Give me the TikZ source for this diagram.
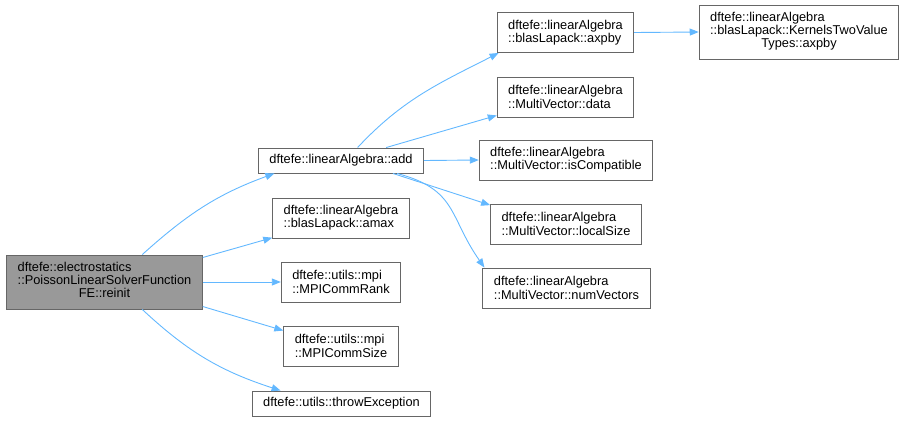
\documentclass[tikz,border=0pt]{standalone}
\usepackage{fontspec}
\setmainfont{Liberation Sans}
\usepackage{tikz}
\usetikzlibrary{arrows.meta}

\definecolor{edgeblue}{HTML}{63B8FF}
\definecolor{boxgray}{HTML}{666666}
\definecolor{rootfill}{HTML}{999999}

% three lines, the last one centred (doxygen wrapping)
\newcommand{\lastcentered}[3]{\begin{tabular}{@{}l@{}}#1\\#2\\\multicolumn{1}{@{}c@{}}{#3}\end{tabular}}

\begin{document}
\begin{tikzpicture}[
  x=1pt, y=1pt,
  every node/.style={font=\fontsize{12.8}{13.3}\selectfont},
  fn/.style={draw=boxgray, line width=0.9pt, fill=white, align=left, inner xsep=11pt, inner ysep=0pt},
  oneline/.style={fn, minimum height=25pt},
  twoline/.style={fn, minimum height=40pt},
  threeline/.style={fn, minimum height=54pt},
  call/.style={-{Triangle[length=9pt,width=7pt]}, color=edgeblue, line width=0.9pt},
]
\useasboundingbox (0,0) rectangle (909,-421);

% --- caller
\node[threeline, fill=rootfill] (reinit) at (104.5,-282)
  {\lastcentered{dftefe::electrostatics}{::PoissonLinearSolverFunction}{FE::reinit}};

% --- direct callees
\node[oneline] (add)      at (341,-160.5) {dftefe::linearAlgebra::add};
\node[twoline] (amax)     at (341,-218)   {dftefe::linearAlgebra\\::blasLapack::amax};
\node[twoline] (commrank) at (341,-282)   {dftefe::utils::mpi\\::MPICommRank};
\node[twoline] (commsize) at (341,-346)   {dftefe::utils::mpi\\::MPICommSize};
\node[oneline] (throwexc) at (341.5,-403.5) {dftefe::utils::throwException};

% --- called from add
\node[twoline] (axpby)     at (565.5,-32.5) {dftefe::linearAlgebra\\::blasLapack::axpby};
\node[twoline] (data)      at (565.5,-97)   {dftefe::linearAlgebra\\::MultiVector::data};
\node[twoline] (iscompat)  at (566,-160)    {dftefe::linearAlgebra\\::MultiVector::isCompatible};
\node[twoline] (localsize) at (566,-224)    {dftefe::linearAlgebra\\::MultiVector::localSize};
\node[twoline] (numvec)    at (566.5,-288)  {dftefe::linearAlgebra\\::MultiVector::numVectors};

% --- called from axpby
\node[threeline] (kernaxpby) at (799,-32)
  {\lastcentered{dftefe::linearAlgebra}{::blasLapack::KernelsTwoValue}{Types::axpby}};

% --- calls
\draw[call] (reinit.36) to[out=42,in=200] (add.191);
\draw[call] (reinit.14) -- (amax.196);
\draw[call] (reinit.east) -- (commrank.west);
\draw[call] (reinit.-14) -- (commsize.165);
\draw[call] (reinit.-36) to[out=-43,in=162] (throwexc.168);
\draw[call] (add.38) to[out=47,in=207] (axpby.197);
\draw[call] (add.16) -- (data.195);
\draw[call] (add.east) -- (iscompat.west);
\draw[call] (add.-14) -- (localsize.166);
\draw[call] (add.-13) to[out=-15,in=125,looseness=1.25] (numvec.166);
\draw[call] (axpby.east) -- (kernaxpby.west);
\end{tikzpicture}
\end{document}
